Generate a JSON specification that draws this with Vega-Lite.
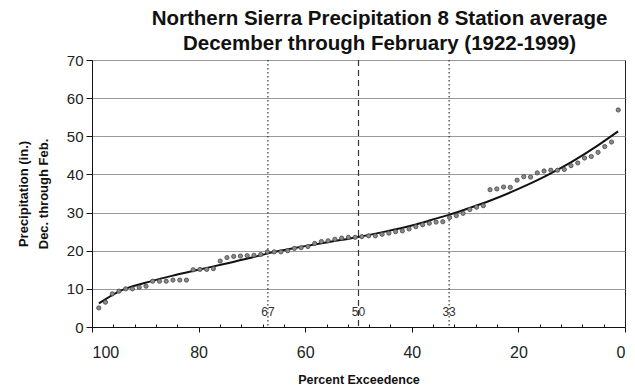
{
  "$schema": "https://vega.github.io/schema/vega-lite/v6.json",
  "width": 533,
  "height": 267,
  "autosize": {"type": "none"},
  "padding": {"left": 92, "top": 60, "right": 10, "bottom": 62},
  "background": "white",
  "title": {
    "text": ["Northern Sierra Precipitation 8 Station average", "December through February (1922-1999)"],
    "font": "Liberation Sans",
    "fontSize": 20.5,
    "fontWeight": "bold",
    "color": "#111",
    "lineHeight": 25,
    "offset": 3,
    "dx": 21,
    "dy": 4
  },
  "config": {
    "view": {"stroke": "#222", "strokeWidth": 1},
    "axis": {
      "labelFont": "Liberation Sans",
      "titleFont": "Liberation Sans",
      "labelColor": "#222",
      "titleColor": "#111",
      "domainColor": "#111",
      "tickColor": "#111"
    }
  },
  "datasets": {
    "pts": [
      {"p": 1.27, "v": 56.9}, {"p": 2.53, "v": 48.5}, {"p": 3.80, "v": 47.3}, {"p": 5.06, "v": 45.8},
      {"p": 6.33, "v": 44.7}, {"p": 7.59, "v": 44.3}, {"p": 8.86, "v": 43.0}, {"p": 10.13, "v": 42.3},
      {"p": 11.39, "v": 41.3}, {"p": 12.66, "v": 41.1}, {"p": 13.92, "v": 41.1}, {"p": 15.19, "v": 40.9},
      {"p": 16.46, "v": 40.4}, {"p": 17.72, "v": 39.3}, {"p": 18.99, "v": 39.4}, {"p": 20.25, "v": 38.5},
      {"p": 21.52, "v": 36.6}, {"p": 22.78, "v": 36.7}, {"p": 24.05, "v": 36.2}, {"p": 25.32, "v": 36.0},
      {"p": 26.58, "v": 31.8}, {"p": 27.85, "v": 31.4}, {"p": 29.11, "v": 30.8}, {"p": 30.38, "v": 29.8},
      {"p": 31.65, "v": 29.2}, {"p": 32.91, "v": 28.7}, {"p": 34.18, "v": 27.6}, {"p": 35.44, "v": 27.5},
      {"p": 36.71, "v": 27.2}, {"p": 37.97, "v": 26.8}, {"p": 39.24, "v": 26.3}, {"p": 40.51, "v": 25.7},
      {"p": 41.77, "v": 25.2}, {"p": 43.04, "v": 25.0}, {"p": 44.30, "v": 24.6}, {"p": 45.57, "v": 24.3},
      {"p": 46.84, "v": 23.9}, {"p": 48.10, "v": 23.9}, {"p": 49.37, "v": 23.7}, {"p": 50.63, "v": 23.5},
      {"p": 51.90, "v": 23.5}, {"p": 53.16, "v": 23.3}, {"p": 54.43, "v": 23.0}, {"p": 55.70, "v": 22.6},
      {"p": 56.96, "v": 22.4}, {"p": 58.23, "v": 21.9}, {"p": 59.49, "v": 21.1}, {"p": 60.76, "v": 20.8},
      {"p": 62.03, "v": 20.6}, {"p": 63.29, "v": 20.0}, {"p": 64.56, "v": 19.7}, {"p": 65.82, "v": 19.7},
      {"p": 67.09, "v": 19.7}, {"p": 68.35, "v": 19.0}, {"p": 69.62, "v": 18.8}, {"p": 70.89, "v": 18.7},
      {"p": 72.15, "v": 18.6}, {"p": 73.42, "v": 18.5}, {"p": 74.68, "v": 18.2}, {"p": 75.95, "v": 17.3},
      {"p": 77.22, "v": 15.3}, {"p": 78.48, "v": 15.1}, {"p": 79.75, "v": 15.1}, {"p": 81.01, "v": 15.0},
      {"p": 82.28, "v": 12.3}, {"p": 83.54, "v": 12.3}, {"p": 84.81, "v": 12.3}, {"p": 86.08, "v": 12.0},
      {"p": 87.34, "v": 12.0}, {"p": 88.61, "v": 12.0}, {"p": 89.87, "v": 10.7}, {"p": 91.14, "v": 10.4},
      {"p": 92.41, "v": 10.0}, {"p": 93.67, "v": 10.0}, {"p": 94.94, "v": 9.4}, {"p": 96.20, "v": 8.7},
      {"p": 97.47, "v": 6.5}, {"p": 98.73, "v": 5.0}
    ],
    "fit": [
      {"p": 98.7, "v": 6.2}, {"p": 95, "v": 9.3}, {"p": 90, "v": 11.6}, {"p": 85, "v": 13.4},
      {"p": 80, "v": 15.0}, {"p": 75, "v": 16.6}, {"p": 70, "v": 18.2}, {"p": 67, "v": 19.3},
      {"p": 60, "v": 21.2}, {"p": 55, "v": 22.4}, {"p": 50, "v": 23.6}, {"p": 45, "v": 25.0},
      {"p": 40, "v": 26.6}, {"p": 35, "v": 28.6}, {"p": 33, "v": 29.4}, {"p": 30, "v": 30.8},
      {"p": 25, "v": 33.3}, {"p": 20, "v": 36.2}, {"p": 15, "v": 39.5}, {"p": 10, "v": 43.3},
      {"p": 5, "v": 47.7}, {"p": 1.3, "v": 51.3}
    ],
    "marks": [
      {"p": 67, "t": "67", "y": 3.9},
      {"p": 50, "t": "50", "y": 3.9},
      {"p": 33, "t": "33", "y": 3.9}
    ]
  },
  "layer": [
    {
      "data": {"name": "marks"},
      "transform": [{"filter": "datum.p != 50"}],
      "mark": {"type": "rule", "color": "#333", "strokeWidth": 1.2, "strokeDash": [1.5, 2.5]},
      "encoding": {
        "x": {
          "field": "p", "type": "quantitative",
          "scale": {"domain": [0, 100], "reverse": true, "nice": false},
          "axis": {
            "values": [0, 4, 8, 12, 16, 20, 24, 28, 32, 36, 40, 44, 48, 52, 56, 60, 64, 68, 72, 76, 80, 84, 88, 92, 96, 100],
            "tickCount": 200,
            "format": "d",
            "labelOverlap": false,
            "labelExpr": "datum.value % 20 === 0 ? datum.label : ''",
            "tickSize": {"condition": {"test": "datum.value % 20 === 0", "value": 5}, "value": -3},
            "labelFontSize": 16,
            "labelPadding": 12,
            "grid": false,
            "title": "Percent Exceedence",
            "titleFontSize": 12.5,
            "titleFontWeight": "bold",
            "titlePadding": 13
          }
        }
      }
    },
    {
      "data": {"name": "marks"},
      "transform": [{"filter": "datum.p == 50"}],
      "mark": {"type": "rule", "color": "#333", "strokeWidth": 1.2, "strokeDash": [6, 4]},
      "encoding": {"x": {"field": "p", "type": "quantitative"}}
    },
    {
      "data": {"name": "marks"},
      "mark": {"type": "text", "font": "Liberation Sans", "fontSize": 12, "color": "#333"},
      "encoding": {
        "x": {"field": "p", "type": "quantitative"},
        "y": {"field": "y", "type": "quantitative"},
        "text": {"field": "t"}
      }
    },
    {
      "data": {"name": "fit"},
      "mark": {"type": "line", "color": "#111", "strokeWidth": 2, "interpolate": "monotone"},
      "encoding": {
        "x": {"field": "p", "type": "quantitative"},
        "y": {
          "field": "v", "type": "quantitative",
          "scale": {"domain": [0, 70], "nice": false},
          "axis": {
            "values": [0, 10, 20, 30, 40, 50, 60, 70],
            "tickCount": 100,
            "format": "d",
            "labelOverlap": false,
            "labelFontSize": 15,
            "labelPadding": 3,
            "tickSize": 6,
            "grid": true,
            "gridColor": "#999",
            "gridWidth": 1,
            "title": ["Precipitation (in.)", "Dec. through Feb."],
            "titleFontSize": 13,
            "titleFontWeight": "bold",
            "titleLineHeight": 20,
            "titlePadding": 16
          }
        }
      }
    },
    {
      "data": {"name": "pts"},
      "mark": {"type": "point", "filled": true, "fill": "#8a8a8a", "stroke": "#444", "strokeWidth": 0.8, "size": 18, "opacity": 1},
      "encoding": {
        "x": {"field": "p", "type": "quantitative"},
        "y": {"field": "v", "type": "quantitative"}
      }
    }
  ]
}
